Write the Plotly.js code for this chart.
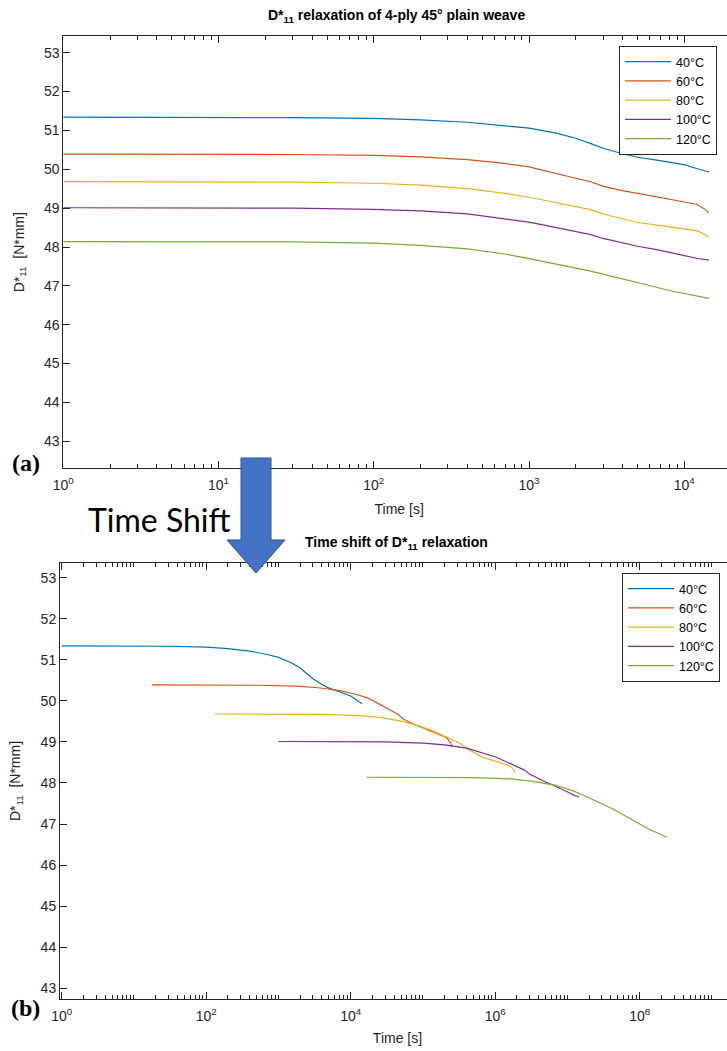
<!DOCTYPE html>
<html><head><meta charset="utf-8">
<script src="https://cdn.plot.ly/plotly-3.0.1.min.js"></script>
<style>html,body{margin:0;padding:0;overflow:hidden;background:#fff}</style>
</head><body><div id="chart" style="width:735px;height:1051px"></div>
<script>
// ---- data ----
const temps = ['40°C', '60°C', '80°C', '100°C', '120°C'];
const time = [1, 3, 10, 30, 100, 200, 400, 700, 1000, 1500, 2000, 2500, 3000, 4000, 5000, 6500, 8000, 10000, 12000, 13500, 14400];
const d40  = [51.34, 51.34, 51.34, 51.33, 51.31, 51.27, 51.21, 51.13, 51.06, 50.93, 50.80, 50.66, 50.54, 50.40, 50.31, 50.24, 50.19, 50.12, 50.02, 49.95, 49.93];
const d60  = [50.39, 50.39, 50.39, 50.38, 50.36, 50.32, 50.25, 50.15, 50.06, 49.88, 49.77, 49.68, 49.56, 49.45, 49.38, 49.30, 49.23, 49.15, 49.10, 48.98, 48.88];
const d80  = [49.68, 49.68, 49.68, 49.67, 49.64, 49.59, 49.50, 49.38, 49.28, 49.13, 49.03, 48.96, 48.85, 48.72, 48.63, 48.57, 48.52, 48.46, 48.42, 48.33, 48.25];
const d100 = [49.01, 49.01, 49.01, 49.00, 48.97, 48.93, 48.85, 48.73, 48.64, 48.50, 48.40, 48.32, 48.22, 48.10, 48.02, 47.94, 47.87, 47.78, 47.71, 47.68, 47.66];
const d120 = [48.14, 48.14, 48.14, 48.13, 48.10, 48.04, 47.95, 47.82, 47.70, 47.56, 47.46, 47.38, 47.30, 47.17, 47.08, 46.97, 46.88, 46.80, 46.74, 46.70, 46.68];
// log10 of the time-shift factor for each temperature
const logShift = [0, 1.25, 2.12, 3.0, 4.22];
const topTickVals = [1, 10, 100, 1000, 10000];
const topTickText = ['10<sup>0</sup>', '10<sup>1</sup>', '10<sup>2</sup>', '10<sup>3</sup>', '10<sup>4</sup>'];
const botTickVals = [1, 1e2, 1e4, 1e6, 1e8];
const botTickText = ['10<sup>0</sup>', '10<sup>2</sup>', '10<sup>4</sup>', '10<sup>6</sup>', '10<sup>8</sup>'];
const yTicks = [43, 44, 45, 46, 47, 48, 49, 50, 51, 52, 53];

// ---- styling ----
const series = [d40, d60, d80, d100, d120];
const colors = ['#0072BD', '#D95319', '#EDB120', '#7E2F8E', '#77AC30'];
const W = 735, H = 1051;
const px = p => p / W, py = p => 1 - p / H;
const FONT = 'Liberation Sans, Arial, sans-serif';
const AX = '#262626';

const traces = [];
series.forEach((s, i) => {
  traces.push({x: time, y: s, name: temps[i], type: 'scatter', mode: 'lines',
    line: {color: colors[i], width: 1.2}, xaxis: 'x', yaxis: 'y', legend: 'legend'});
});
series.forEach((s, i) => {
  const f = Math.pow(10, logShift[i]);
  traces.push({x: time.map(t => t * f), y: s, name: temps[i], type: 'scatter', mode: 'lines',
    line: {color: colors[i], width: 1.2}, xaxis: 'x2', yaxis: 'y2', legend: 'legend2'});
});

function minorVals(lo, hi, withOdd) {
  const v = [];
  for (let k = lo; k < hi; k++) {
    for (let m = 2; m <= 9; m++) v.push(m * Math.pow(10, k));
    if (withOdd && k % 2 === 1) v.push(Math.pow(10, k));
  }
  return v;
}

const axBase = {
  showline: true, linecolor: AX, linewidth: 1, mirror: 'ticks',
  ticks: 'inside', ticklen: 7, tickcolor: AX, tickwidth: 1,
  showgrid: false, zeroline: false,
  tickfont: {family: FONT, size: 14, color: AX}
};

const layout = {
  width: W, height: H,
  margin: {l: 0, r: 0, t: 0, b: 0},
  paper_bgcolor: '#fff', plot_bgcolor: '#fff',
  font: {family: FONT, color: '#000'},
  showlegend: true,
  xaxis: Object.assign({}, axBase, {
    type: 'log', domain: [px(63.3), 1], range: [0, (W - 63.3) / 155.25], anchor: 'y',
    tickmode: 'array', tickvals: topTickVals, ticktext: topTickText, ticklabelstandoff: 4,
    minor: {tickmode: 'array', tickvals: minorVals(0, 5, false), ticks: 'inside', ticklen: 4, tickcolor: AX},
    title: {text: 'Time [s]', font: {family: FONT, size: 14, color: AX}, standoff: 12}
  }),
  yaxis: Object.assign({}, axBase, {
    domain: [py(468.3), py(36)], range: [42.305, 53.43], anchor: 'x',
    tickmode: 'array', tickvals: yTicks,
    title: {text: 'D*<sub>11</sub>  [N*mm]', font: {family: FONT, size: 14, color: AX}, standoff: 16}
  }),
  xaxis2: Object.assign({}, axBase, {
    type: 'log', domain: [px(60), 1], range: [-0.0235, -0.0235 + (W - 60) / 72.25], anchor: 'y2',
    tickmode: 'array', tickvals: botTickVals, ticktext: botTickText, ticklabelstandoff: 4,
    minor: {tickmode: 'array', tickvals: minorVals(0, 10, true), ticks: 'inside', ticklen: 4, tickcolor: AX},
    title: {text: 'Time [s]', font: {family: FONT, size: 14, color: AX}, standoff: 10}
  }),
  yaxis2: Object.assign({}, axBase, {
    domain: [py(999.3), py(562.7)], range: [42.732, 53.365], anchor: 'x2',
    tickmode: 'array', tickvals: yTicks,
    title: {text: 'D*<sub>11</sub>  [N*mm]', font: {family: FONT, size: 14, color: AX}, standoff: 16}
  }),
  legend: {x: px(619), xanchor: 'left', y: py(46), yanchor: 'top', bgcolor: '#fff',
    bordercolor: AX, borderwidth: 1, itemwidth: 46, tracegroupgap: 0,
    font: {family: FONT, size: 12.5, color: '#000'}},
  legend2: {x: px(622), xanchor: 'left', y: py(573), yanchor: 'top', bgcolor: '#fff',
    bordercolor: AX, borderwidth: 1, itemwidth: 46, tracegroupgap: 0,
    font: {family: FONT, size: 12.5, color: '#000'}},
  annotations: [
    {text: '<b>D*<sub>11</sub> relaxation of 4-ply 45° plain weave</b>', xref: 'paper', yref: 'paper',
      x: px(396), y: py(16), xanchor: 'center', yanchor: 'middle', showarrow: false,
      font: {family: FONT, size: 14, color: '#000'}},
    {text: '<b>Time shift of D*<sub>11</sub> relaxation</b>', xref: 'paper', yref: 'paper',
      x: px(396), y: py(543), xanchor: 'center', yanchor: 'middle', showarrow: false,
      font: {family: FONT, size: 14, color: '#000'}},
    {text: 'Time Shift', xref: 'paper', yref: 'paper', x: px(159), y: py(519),
      xanchor: 'center', yanchor: 'middle', showarrow: false,
      font: {family: 'Lato, Carlito, sans-serif', size: 32, color: '#000'}},
    {text: '<b>(a)</b>', xref: 'paper', yref: 'paper', x: px(26), y: py(463),
      xanchor: 'center', yanchor: 'middle', showarrow: false,
      font: {family: 'Liberation Serif, Times New Roman, serif', size: 24, color: '#000'}},
    {text: '<b>(b)</b>', xref: 'paper', yref: 'paper', x: px(25), y: py(1008),
      xanchor: 'center', yanchor: 'middle', showarrow: false,
      font: {family: 'Liberation Serif, Times New Roman, serif', size: 24, color: '#000'}}
  ],
  shapes: [
    {type: 'path', xref: 'paper', yref: 'paper', layer: 'above',
      path: 'M ' + px(241) + ' ' + py(458) + ' L ' + px(271) + ' ' + py(458) + ' L ' + px(271) + ' ' + py(540) +
            ' L ' + px(285) + ' ' + py(540) + ' L ' + px(256) + ' ' + py(573) + ' L ' + px(227) + ' ' + py(540) +
            ' L ' + px(241) + ' ' + py(540) + ' Z',
      fillcolor: '#4472C4', line: {color: '#2F528F', width: 1}}
  ]
};

Plotly.newPlot('chart', traces, layout, {displayModeBar: false, staticPlot: true});
</script>
</body></html>
